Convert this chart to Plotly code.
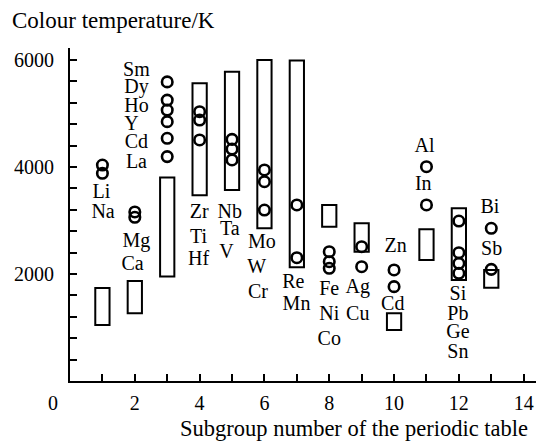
import plotly.graph_objects as go

# Ranges of colour temperature (K) per subgroup, drawn as open boxes
box_subgroup = [1, 2, 3, 4, 5, 6, 7, 8, 9, 10, 11, 12, 13]
box_low = [1047, 1265, 1955, 3470, 3570, 2854, 2125, 2884, 2417, 953, 2261, 1888, 1744]
box_high = [1740, 1869, 3805, 5564, 5781, 6000, 5990, 3290, 2947, 1265, 2835, 3228, 2075]

# Individual elements (open circles)
pt_subgroup = [1, 1,
               2, 2,
               3, 3, 3, 3, 3, 3,
               4, 4, 4,
               5, 5, 5,
               6, 6, 6,
               7, 7,
               8, 8, 8,
               9, 9,
               10, 10,
               11, 11,
               12, 12, 12, 12,
               13, 13]
pt_temp = [4037, 3882,
           3160, 3060,
           5590, 5250, 5065, 4847, 4537, 4194,
           5033, 4878, 4505,
           4516, 4336, 4131,
           3944, 3725, 3196,
           3290, 2305,
           2417, 2230, 2106,
           2510, 2136,
           2075, 1763,
           4005, 3290,
           2990, 2398, 2199, 2013,
           2854, 2087]

# Element symbols and where they sit (subgroup, K)
lbl_text = ["Li", "Na", "Mg", "Ca",
            "Sm", "Dy", "Ho", "Y", "Cd", "La",
            "Zr", "Ti", "Hf", "Nb", "Ta", "V",
            "Mo", "W", "Cr", "Re", "Mn",
            "Fe", "Ni", "Co", "Ag", "Cu",
            "Zn", "Cd", "Al", "In",
            "Si", "Pb", "Ge", "Sn", "Bi", "Sb"]
lbl_x = [0.97, 1.02, 2.05, 1.93,
         2.05, 2.05, 2.05, 1.9, 2.05, 2.05,
         3.99, 3.97, 3.97, 4.93, 4.93, 4.83,
         5.92, 5.76, 5.8, 6.89, 6.99,
         8.0, 8.0, 8.0, 8.88, 8.88,
         10.05, 9.96, 10.94, 10.9,
         11.97, 11.97, 11.97, 11.97, 12.96, 13.01]
lbl_y = [3520, 3140, 2604, 2168,
         5800, 5470, 5130, 4790, 4440, 4070,
         3134, 2667, 2261, 3134, 2822, 2387,
         2574, 2104, 1645, 1837, 1420,
         1701, 1234, 766, 1733, 1234,
         2510, 1420, 4379, 3663,
         1607, 1234, 892, 518, 3228, 2448]

x_ticks = [2, 4, 6, 8, 10, 12, 14]
y_ticks = [2000, 4000, 6000]

FONT = "Liberation Serif"

fig = go.Figure()

fig.add_trace(go.Bar(
    x=box_subgroup,
    y=[h - l for h, l in zip(box_high, box_low)],
    base=box_low,
    width=0.44,
    marker=dict(color="rgba(0,0,0,0)", line=dict(color="black", width=2)),
    hoverinfo="skip",
))

fig.add_trace(go.Scatter(
    x=pt_subgroup, y=pt_temp, mode="markers",
    marker=dict(symbol="circle-open", size=10.5, color="black",
                line=dict(color="black", width=2.6)),
    hoverinfo="skip",
))

fig.add_trace(go.Scatter(
    x=lbl_x, y=lbl_y, mode="text", text=lbl_text,
    textposition="middle center",
    textfont=dict(family=FONT, size=20, color="black"),
    hoverinfo="skip",
))

fig.update_layout(
    width=536, height=441,
    margin=dict(l=70, r=0, t=48, b=60),
    paper_bgcolor="white", plot_bgcolor="white",
    showlegend=False,
    font=dict(family=FONT, size=20, color="black"),
    xaxis=dict(
        range=[0, 14.38], tickvals=x_ticks, ticktext=[str(v) for v in x_ticks],
        ticks="inside", ticklen=7, tickwidth=2, tickcolor="black",
        minor=dict(dtick=1, tick0=0, ticks="inside", ticklen=7, tickwidth=2, tickcolor="black"),
        showline=True, linecolor="black", linewidth=2,
        showgrid=False, zeroline=False, ticklabelstandoff=3,
    ),
    yaxis=dict(
        range=[0, 6224], tickvals=y_ticks, ticktext=[str(v) for v in y_ticks],
        ticks="inside", ticklen=7, tickwidth=2, tickcolor="black",
        minor=dict(dtick=400, tick0=0, ticks="inside", ticklen=7, tickwidth=2, tickcolor="black"),
        showline=True, linecolor="black", linewidth=2,
        showgrid=False, zeroline=False, ticklabelstandoff=10,
    ),
    annotations=[
        dict(text="Colour temperature/K", xref="paper", yref="paper",
             x=-60 / 466, y=1 + 27 / 333, xanchor="left", yanchor="middle",
             showarrow=False, font=dict(family=FONT, size=23)),
        dict(text="Subgroup number of the periodic table", xref="paper", yref="paper",
             x=1 - 6 / 466, y=-47 / 333, xanchor="right", yanchor="middle",
             showarrow=False, font=dict(family=FONT, size=22.5)),
        dict(text="0", xref="paper", yref="paper",
             x=-17 / 466, y=-22 / 333, xanchor="center", yanchor="middle",
             showarrow=False, font=dict(family=FONT, size=20)),
    ],
)

fig.write_html("out.html")
